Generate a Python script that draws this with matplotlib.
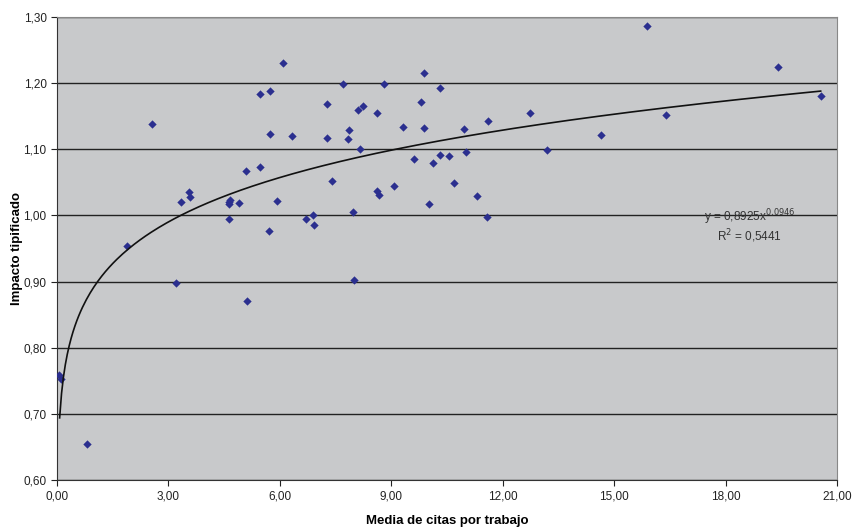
import numpy as np
import matplotlib
matplotlib.use("Agg")
import matplotlib.pyplot as plt
from matplotlib.ticker import FuncFormatter

plt.rcParams['font.family'] = ['Liberation Sans', 'DejaVu Sans']

# media de citas por trabajo / impacto tipificado
citas = [0.05, 0.10, 0.82, 1.88, 2.55, 3.21, 3.33, 3.55, 3.58, 4.64,
         4.64, 4.66, 4.64, 4.89, 5.08, 5.12, 5.47, 5.47, 5.71, 5.74,
         5.74, 5.93, 6.09, 6.33, 6.71, 6.90, 6.92, 7.26, 7.27, 7.39,
         7.70, 7.83, 7.86, 7.98, 8.00, 8.10, 8.17, 8.24, 8.61, 8.62,
         8.66, 8.81, 9.07, 9.32, 9.61, 9.80, 9.87, 9.87, 10.01, 10.11,
         10.31, 10.31, 10.55, 10.68, 10.95, 11.00, 11.30, 11.58, 11.60, 12.73,
         13.18, 14.64, 15.89, 16.40, 19.41, 20.56]
impacto = [0.759, 0.752, 0.655, 0.954, 1.138, 0.898, 1.021, 1.035, 1.028, 1.017,
           0.994, 1.023, 1.020, 1.019, 1.067, 0.870, 1.184, 1.074, 0.977, 1.188,
           1.123, 1.022, 1.231, 1.120, 0.994, 1.001, 0.985, 1.117, 1.168, 1.052,
           1.199, 1.115, 1.129, 1.005, 0.902, 1.160, 1.101, 1.165, 1.155, 1.037,
           1.031, 1.199, 1.045, 1.134, 1.086, 1.171, 1.216, 1.132, 1.018, 1.080,
           1.193, 1.092, 1.090, 1.049, 1.131, 1.096, 1.030, 0.998, 1.143, 1.155,
           1.099, 1.122, 1.287, 1.152, 1.224, 1.180]

# tendencia potencial (Excel)
coef_a = 0.8925
coef_b = 0.0946
r2 = 0.5441

fig = plt.figure(figsize=(8.59, 5.32), dpi=100)
ax = fig.add_axes([0.0664, 0.0977, 0.908, 0.8703])
ax.set_facecolor('#c8c9cb')

ax.set_xlim(0, 21)
ax.set_ylim(0.60, 1.30)
ax.set_xticks(np.arange(0, 21.01, 3))
ax.set_yticks(np.arange(0.60, 1.301, 0.10))
fmt = FuncFormatter(lambda v, p: ('%.2f' % v).replace('.', ','))
ax.xaxis.set_major_formatter(fmt)
ax.yaxis.set_major_formatter(fmt)

ax.yaxis.grid(True, color='#222222', linewidth=1.0)
ax.set_axisbelow(True)

ax.scatter(citas, impacto, marker='D', s=18, color='#2b2f8f', zorder=3, linewidths=0)

xt = np.linspace(min(citas) + 0.02, max(citas), 400)
ax.plot(xt, coef_a * xt ** coef_b, color='#111111', linewidth=1.2, zorder=4)

ax.text(0.888, 0.568, 'y = 0,8925x$^{0{,}0946}$', transform=ax.transAxes,
        ha='center', va='center', fontsize=8.5, color='#333333', zorder=5)
ax.text(0.888, 0.527, 'R$^2$ = 0,5441', transform=ax.transAxes,
        ha='center', va='center', fontsize=8.5, color='#333333', zorder=5)

for s in ['top', 'right']:
    ax.spines[s].set_color('#888888')
for s in ['left', 'bottom']:
    ax.spines[s].set_color('#333333')
ax.tick_params(axis='both', labelsize=8.5, colors='#222222', length=4, direction='out')

ax.set_xlabel('Media de citas por trabajo', fontsize=9.5, fontweight='bold')
ax.set_ylabel('Impacto tipificado', fontsize=9.5, fontweight='bold')
ax.xaxis.set_label_coords(0.5, -0.075)
ax.yaxis.set_label_coords(-0.044, 0.5)

fig.savefig('out.png', dpi=100)
